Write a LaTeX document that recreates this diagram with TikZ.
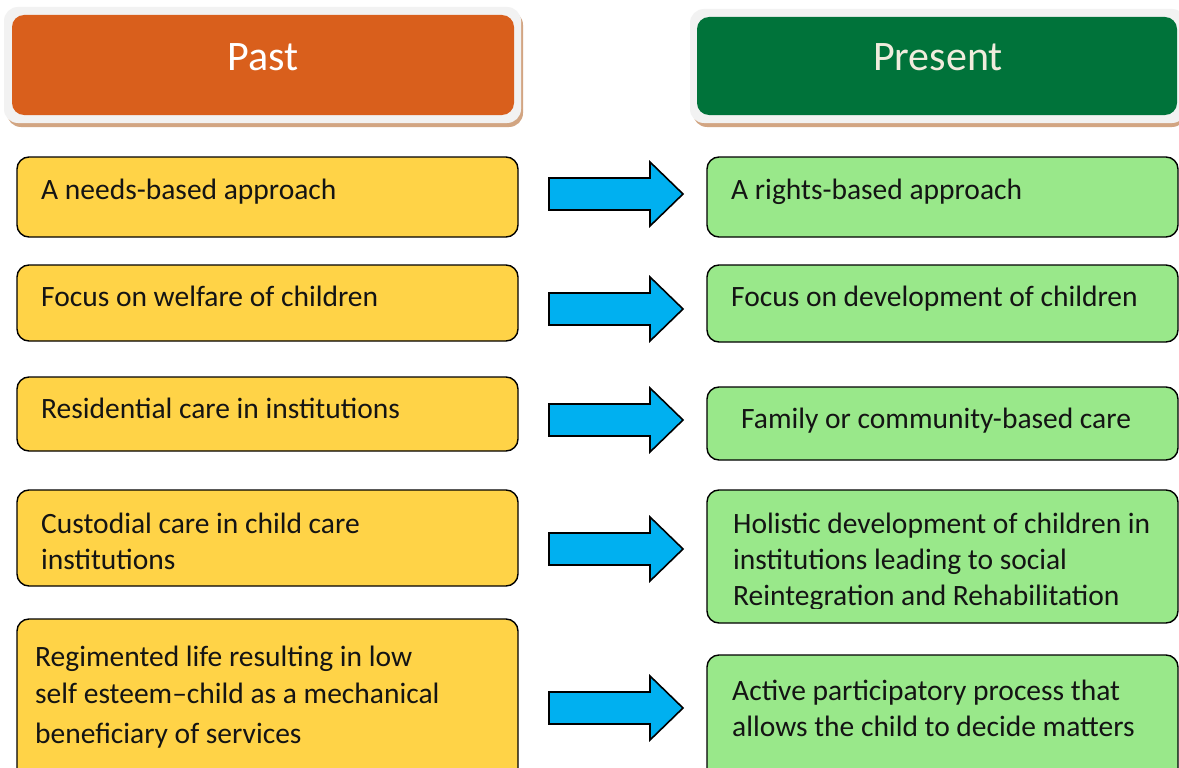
\documentclass[tikz,border=0pt]{standalone}
\usepackage{fontspec}
\setmainfont{Carlito}
\usetikzlibrary{fit}
\definecolor{pastorange}{HTML}{D95F1C}
\definecolor{presentgreen}{HTML}{00733A}
\definecolor{headborder}{HTML}{F2F2F2}
\definecolor{headshadow}{HTML}{D2A582}
\definecolor{pastfill}{HTML}{FFD347}
\definecolor{presentfill}{HTML}{99E88A}
\definecolor{arrowblue}{HTML}{00B0F0}
\definecolor{bodytext}{HTML}{141414}
\definecolor{cream}{HTML}{F0ECDD}
\tikzset{
  headbox/.style={rounded corners=12, inner sep=0, draw=none},
  itembox/.style={rounded corners=12, inner sep=0, draw=black, line width=1.4pt},
  pastbox/.style={itembox, fill=pastfill},
  presentbox/.style={itembox, fill=presentfill},
  headtext/.style={anchor=base, inner sep=0, font=\fontsize{42}{50}\selectfont},
  itemtext/.style={anchor=base west, inner sep=0, text=bodytext, font=\fontsize{29.5}{36}\selectfont},
  blockarrow/.style={fill=arrowblue, draw=black, line width=1.6pt, line join=miter},
}
% block arrow between a pair of boxes: #1 name, #2 vertical centre
\newcommand{\rowarrow}[2]{%
  \coordinate (#1) at (549,#2);
  \draw[blockarrow] (#1) ++(0,-16) -- ++(101,0) -- ++(0,-16) -- ++(33,32)
    -- ++(-33,32) -- ++(0,-16) -- ++(-101,0) -- cycle;}
\begin{document}
\begin{tikzpicture}[x=1pt,y=-1pt]
\useasboundingbox (0,0) rectangle (1179,768);
\fill[white] (0,0) rectangle (1179,768);

% column headers
\fill[headshadow, rounded corners=14] (7,11) rectangle (523,127);
\fill[headborder, rounded corners=14] (4,7) rectangle (521,123);
\node[headbox, fill=pastorange, fit={(12,15)(514,115)}] (pasthead) {};
\node[headtext, text=white] (pastlabel) at (263,71) {Past};

\fill[headshadow, rounded corners=14] (693,13) rectangle (1186,127);
\fill[headborder, rounded corners=14] (690,9) rectangle (1186,123);
\node[headbox, fill=presentgreen, fit={(697,17)(1177,115)}] (presenthead) {};
\node[headtext, text=cream] (presentlabel) at (938,71) {Present};

% past column
\node[pastbox, fit={(17,157)(518,237)}] (L1) {};
\node[itemtext] (t1) at (41,199) {A needs-based approach};
\node[pastbox, fit={(17,265)(518,341)}] (L2) {};
\node[itemtext] (t2) at (41,306) {Focus on welfare of children};
\node[pastbox, fit={(17,377)(518,451)}] (L3) {};
\node[itemtext] (t3) at (41,418) {Residential care in institutions};
\node[pastbox, fit={(17,490)(518,586)}] (L4) {};
\node[itemtext] (t4a) at (41,533) {Custodial care in child care};
\node[itemtext] (t4b) at (41,569) {institutions};
\node[pastbox, fit={(17,619)(518,800)}] (L5) {};
\node[itemtext] (t5a) at (35,666) {Regimented life resulting in low};
\node[itemtext] (t5b) at (35,703) {self esteem–child as a mechanical};
\node[itemtext] (t5c) at (35,743) {beneficiary of services};

% present column
\node[presentbox, fit={(707,157)(1178,237)}] (R1) {};
\node[itemtext] (u1) at (731,199) {A rights-based approach};
\node[presentbox, fit={(707,265)(1178,342)}] (R2) {};
\node[itemtext] (u2) at (731,306) {Focus on development of children};
\node[presentbox, fit={(707,387)(1178,460)}] (R3) {};
\node[itemtext] (u3) at (741,428) {Family or community-based care};
\node[presentbox, fit={(707,490)(1178,623)}] (R4) {};
\begin{scope}
  \clip (707,490) rectangle (1178,608);
  \node[itemtext] (u4a) at (733,533) {Holistic development of children in};
  \node[itemtext] (u4b) at (733,569) {institutions leading to social};
  \node[itemtext] (u4c) at (733,605) {Reintegration and Rehabilitation};
\end{scope}
\node[presentbox, fit={(707,655)(1178,800)}] (R5) {};
\node[itemtext] (u5a) at (732,700) {Active participatory process that};
\node[itemtext] (u5b) at (732,736) {allows the child to decide matters};

% arrows from past to present
\rowarrow{a1}{194}
\rowarrow{a2}{309}
\rowarrow{a3}{420}
\rowarrow{a4}{549}
\rowarrow{a5}{708}
\end{tikzpicture}
\end{document}
